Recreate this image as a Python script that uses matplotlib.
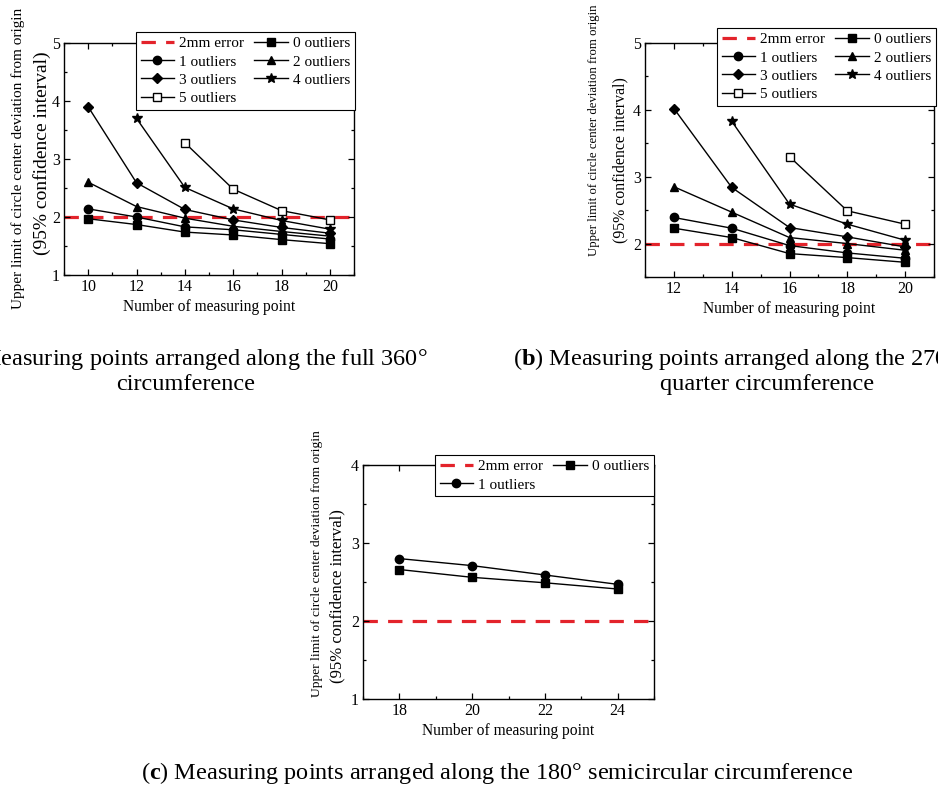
import matplotlib
matplotlib.use("Agg")
import matplotlib.pyplot as plt
from matplotlib.ticker import MultipleLocator

plt.rcParams["font.family"] = ["Liberation Serif", "DejaVu Serif"]
plt.rcParams["mathtext.fontset"] = "custom"
plt.rcParams["mathtext.rm"] = "Liberation Serif"
plt.rcParams["mathtext.bf"] = "Liberation Serif:bold"

W, H = 938, 787

# ── DATA ──
# (a) full 360° circumference
x_a = [10, 12, 14, 16, 18, 20]
a_0 = [1.97, 1.87, 1.74, 1.69, 1.61, 1.54]
a_1 = [2.14, 2.00, 1.83, 1.78, 1.70, 1.62]
a_2 = [2.60, 2.18, 1.98, 1.84, 1.75, 1.67]
a_3 = [3.90, 2.59, 2.13, 1.95, 1.82, 1.72]
a_4 = [3.70, 2.51, 2.14, 1.94, 1.79]          # from 12 points
a_5 = [3.28, 2.48, 2.11, 1.95]                # from 14 points

# (b) 270° three-quarter circumference
x_b = [12, 14, 16, 18, 20]
b_0 = [2.23, 2.09, 1.85, 1.79, 1.72]
b_1 = [2.39, 2.23, 1.97, 1.86, 1.78]
b_2 = [2.85, 2.47, 2.09, 2.00, 1.90]
b_3 = [4.02, 2.84, 2.24, 2.10, 1.95]
b_4 = [3.83, 2.59, 2.29, 2.05]                # from 14 points
b_5 = [3.30, 2.49, 2.29]                      # from 16 points

# (c) 180° semicircular circumference
x_c = [18, 20, 22, 24]
c_0 = [2.66, 2.56, 2.49, 2.41]
c_1 = [2.80, 2.71, 2.59, 2.47]

ERROR_LIMIT = 2.0
OUTLIER_LABELS = ["0 outliers", "1 outliers", "2 outliers",
                  "3 outliers", "4 outliers", "5 outliers"]

X_LABEL = "Number of measuring point"
Y_LABEL_1 = "Upper limit of circle center deviation from origin"
Y_LABEL_2 = "(95% confidence interval)"

CAPTION_A = "($\\mathbf{a}$) Measuring points arranged along the full 360°\ncircumference"
CAPTION_B = "($\\mathbf{b}$) Measuring points arranged along the 270° three-\nquarter circumference"
CAPTION_C = "($\\mathbf{c}$) Measuring points arranged along the 180° semicircular circumference"

# marker style per outlier count
STYLES = [
    dict(marker="s", ms=5.5, mfc="black"),
    dict(marker="o", ms=6, mfc="black"),
    dict(marker="^", ms=6, mfc="black"),
    dict(marker="D", ms=5.5, mfc="black"),
    dict(marker="*", ms=7.5, mfc="black"),
    dict(marker="s", ms=6, mfc="white"),
]


def fx(px):
    return px / W


def fy(py):
    return 1 - py / H


def draw_panel(box, series, xlim, ylim, leg_xy, ylab):
    l, t, r, b = box
    ax = fig.add_axes([fx(l), fy(b), (r - l) / W, (b - t) / H])
    err = ax.axhline(ERROR_LIMIT, color="#e3232b", lw=2.3,
                     ls=(0, (4.5, 3.2)), label="2mm error", zorder=1)
    lines = []
    for i, (xs, ys) in enumerate(series):
        h, = ax.plot(xs, ys, color="black", lw=1.0, mec="black",
                     label=OUTLIER_LABELS[i], zorder=3, **STYLES[i])
        lines.append(h)

    ax.set_xlim(*xlim)
    ax.set_ylim(*ylim)
    ax.xaxis.set_major_locator(MultipleLocator(2))
    ax.xaxis.set_minor_locator(MultipleLocator(1))
    ax.yaxis.set_major_locator(MultipleLocator(1))
    ax.yaxis.set_minor_locator(MultipleLocator(0.5))
    ax.tick_params(which="both", direction="in", top=True, right=True,
                   labelsize=11.5, width=0.9)
    ax.tick_params(which="major", length=4, pad=3)
    ax.tick_params(which="minor", length=2.3)
    for sp in ax.spines.values():
        sp.set_linewidth(1.0)
    ax.set_xlabel(X_LABEL, fontsize=11.2, labelpad=3)

    handles = [err] + lines[1::2] + lines[0::2]
    leg = ax.legend(handles=handles, ncol=2, loc="upper left",
                    bbox_to_anchor=(fx(leg_xy[0]), fy(leg_xy[1])),
                    bbox_transform=fig.transFigure, borderaxespad=0,
                    fancybox=False, edgecolor="black", framealpha=1,
                    fontsize=11, handlelength=2.2, handletextpad=0.3,
                    columnspacing=0.7, labelspacing=0.3, borderpad=0.3)
    leg.get_frame().set_linewidth(0.8)
    leg.set_zorder(5)

    # two-line y label, second line set a little larger
    (x1, y1, s1), (x2, y2, s2) = ylab
    fig.text(fx(x1), fy(y1), Y_LABEL_1, rotation=90, ha="center",
             va="center", fontsize=s1)
    fig.text(fx(x2), fy(y2), Y_LABEL_2, rotation=90, ha="center",
             va="center", fontsize=s2)
    return ax


fig = plt.figure(figsize=(W / 100, H / 100), dpi=100)

series_a = [(x_a, a_0), (x_a, a_1), (x_a, a_2), (x_a, a_3),
            (x_a[1:], a_4), (x_a[2:], a_5)]
draw_panel((64, 43, 354, 275), series_a, (9, 21), (1, 5), (136, 32),
           ((18, 158, 11.0), (42, 153, 14.0)))

series_b = [(x_b, b_0), (x_b, b_1), (x_b, b_2), (x_b, b_3),
            (x_b[1:], b_4), (x_b[2:], b_5)]
draw_panel((645, 43, 934, 277), series_b, (11, 21), (1.5, 5), (717, 28),
           ((594, 130, 9.2), (620, 160, 11.4)))

series_c = [(x_c, c_0), (x_c, c_1)]
draw_panel((363, 465, 654, 699), series_c, (17, 25), (1, 4), (435, 455),
           ((317, 564, 9.7), (337, 596, 12.0)))

fig.text(fx(186), fy(390), CAPTION_A, ha="center", va="baseline",
         fontsize=17.5, linespacing=1.15)
fig.text(fx(767), fy(390), CAPTION_B, ha="center", va="baseline",
         fontsize=17.5, linespacing=1.15)
fig.text(fx(497), fy(779), CAPTION_C, ha="center", va="baseline",
         fontsize=17.5)

fig.savefig("out.png", dpi=100)
